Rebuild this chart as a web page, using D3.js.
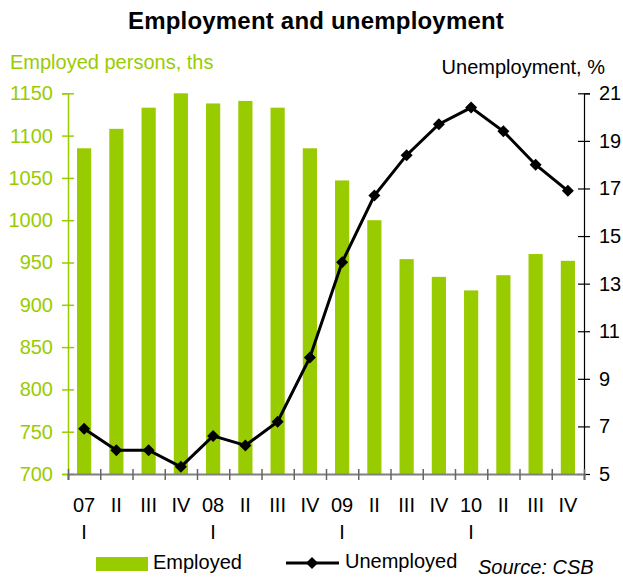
<!DOCTYPE html>
<html>
<head>
<meta charset="utf-8">
<script src="https://cdn.jsdelivr.net/npm/d3@7"></script>
<style>
  body { margin: 0; background: #fff; }
  svg { font-family: "Liberation Sans", Arial, sans-serif; }
</style>
</head>
<body>
<div id="chart"></div>
<script>
// quarters 2007 I .. 2010 IV
var quarters = ["07 I","II","III","IV","08 I","II","III","IV","09 I","II","III","IV","10 I","II","III","IV"];
var labelTop = ["07","II","III","IV","08","II","III","IV","09","II","III","IV","10","II","III","IV"];
var labelBottom = ["I","","","","I","","","","I","","","","I","","",""];

// employed persons, thousands
var employed = [1085, 1108, 1133, 1150, 1138, 1141, 1133, 1085, 1047, 1000, 954, 933, 917, 935, 960, 952];
// unemployment rate, %
var unemployed = [6.9, 6.0, 6.0, 5.3, 6.6, 6.2, 7.2, 9.9, 13.9, 16.7, 18.4, 19.7, 20.4, 19.4, 18.0, 16.9];

var leftTicks = [700, 750, 800, 850, 900, 950, 1000, 1050, 1100, 1150];
var rightTicks = [5, 7, 9, 11, 13, 15, 17, 19, 21];

var green = "#99cc00";
var width = 623, height = 579;
var plotLeft = 68, plotRight = 584, plotTop = 93.3, plotBottom = 474;

var svg = d3.select("#chart").append("svg")
  .attr("width", width)
  .attr("height", height);

// scales
var x = d3.scaleBand()
  .domain(quarters.map(function(d, i) { return i; }))
  .range([plotLeft, plotRight])
  .padding(0);
var xEdge = d3.scaleLinear().domain([0, quarters.length]).range([plotLeft, plotRight]);

var yL = d3.scaleLinear().domain([700, 1150]).range([plotBottom, plotTop]);
var yR = d3.scaleLinear().domain([5, 21]).range([plotBottom, plotTop]);

// title
svg.append("text")
  .attr("x", 316).attr("y", 29)
  .attr("text-anchor", "middle")
  .attr("font-size", 24).attr("font-weight", "bold")
  .attr("letter-spacing", 0.2)
  .text("Employment and unemployment");

svg.append("text")
  .attr("x", 10).attr("y", 69)
  .attr("font-size", 20).attr("fill", green)
  .text("Employed persons, ths");

svg.append("text")
  .attr("x", 605).attr("y", 74)
  .attr("text-anchor", "end")
  .attr("font-size", 20)
  .text("Unemployment, %");

// bars
var barW = x.step() * 0.44;
svg.append("g").selectAll("rect")
  .data(employed)
  .enter().append("rect")
    .attr("x", function(d, i) { return x(i) + x.bandwidth() / 2 - barW / 2; })
    .attr("y", function(d) { return yL(d); })
    .attr("width", barW)
    .attr("height", function(d) { return yL(700) - yL(d); })
    .attr("fill", green);

// left axis
var gL = svg.append("g")
  .attr("transform", "translate(" + plotLeft + ",0)")
  .call(d3.axisLeft(yL).tickValues(leftTicks).tickFormat(d3.format("d")).tickSize(6).tickPadding(9));
gL.select(".domain").attr("stroke", green).attr("stroke-width", 1.5);
gL.selectAll(".tick line").attr("stroke", green).attr("x1", 6).attr("stroke-width", 1.5);
gL.selectAll(".tick text").attr("fill", green).attr("font-size", 20)
  .attr("font-family", "Liberation Sans, Arial, sans-serif");

// right axis
var gR = svg.append("g")
  .attr("transform", "translate(" + plotRight + ",0)")
  .call(d3.axisRight(yR).tickValues(rightTicks).tickFormat(d3.format("d")).tickSize(6).tickPadding(9));
gR.select(".domain").attr("stroke", "#000").attr("stroke-width", 1.2);
gR.selectAll(".tick line").attr("stroke", "#000").attr("x1", -6).attr("stroke-width", 1.2);
gR.selectAll(".tick text").attr("fill", "#000").attr("font-size", 20)
  .attr("font-family", "Liberation Sans, Arial, sans-serif");

// bottom axis with crossing ticks at category edges
var gB = svg.append("g")
  .attr("transform", "translate(0," + plotBottom + ")")
  .call(d3.axisBottom(xEdge).tickValues(d3.range(quarters.length + 1)).tickSize(6).tickFormat(""));
gB.select(".domain").attr("stroke", "#808080").attr("stroke-width", 2);
gB.selectAll(".tick line").attr("stroke", "#666").attr("y1", -5).attr("stroke-width", 1.5);

// category labels
var gX = svg.append("g").attr("font-size", 20).attr("text-anchor", "middle");
gX.selectAll("text.top")
  .data(labelTop)
  .enter().append("text")
    .attr("class", "top")
    .attr("x", function(d, i) { return x(i) + x.bandwidth() / 2; })
    .attr("y", 512)
    .text(function(d) { return d; });
gX.selectAll("text.bot")
  .data(labelBottom)
  .enter().append("text")
    .attr("class", "bot")
    .attr("x", function(d, i) { return x(i) + x.bandwidth() / 2; })
    .attr("y", 539)
    .text(function(d) { return d; });

// unemployment line
var line = d3.line()
  .x(function(d, i) { return x(i) + x.bandwidth() / 2; })
  .y(function(d) { return yR(d); });
svg.append("path")
  .datum(unemployed)
  .attr("d", line)
  .attr("fill", "none")
  .attr("stroke", "#000")
  .attr("stroke-width", 3);

var diamond = d3.symbol().type(d3.symbolSquare).size(72);
svg.append("g").selectAll("path")
  .data(unemployed)
  .enter().append("path")
    .attr("d", diamond)
    .attr("transform", function(d, i) {
      return "translate(" + (x(i) + x.bandwidth() / 2) + "," + yR(d) + ") rotate(45)";
    })
    .attr("fill", "#000");

// legend
var lg = svg.append("g").attr("font-size", 20);
lg.append("rect").attr("x", 96).attr("y", 557).attr("width", 52).attr("height", 14).attr("fill", green);
lg.append("text").attr("x", 153).attr("y", 569).text("Employed");
lg.append("line").attr("x1", 286).attr("x2", 339).attr("y1", 563).attr("y2", 563)
  .attr("stroke", "#000").attr("stroke-width", 3);
lg.append("path").attr("d", diamond).attr("transform", "translate(312,563) rotate(45)");
lg.append("text").attr("x", 345).attr("y", 568).text("Unemployed");

svg.append("text")
  .attr("x", 478).attr("y", 574)
  .attr("font-size", 20).attr("font-style", "italic")
  .text("Source: CSB");
</script>
</body>
</html>
